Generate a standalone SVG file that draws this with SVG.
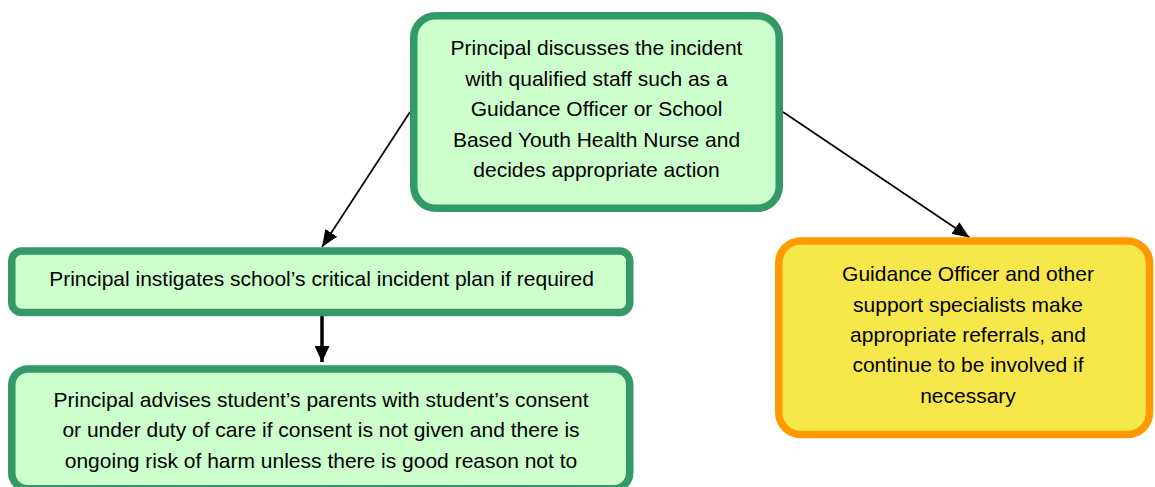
<svg xmlns="http://www.w3.org/2000/svg" width="1155" height="487" viewBox="0 0 1155 487">
  <style>
    .g { fill: #CCFFCC; stroke: #339966; stroke-width: 7.5; }
    .y { fill: #F6E84A; stroke: #FF9900; stroke-width: 7.5; }
    text { font-family: "Liberation Sans", Arial, sans-serif; font-size: 21px; fill: #000; text-anchor: middle; }
    .c { stroke: #000; fill: none; }
  </style>
  <defs>
    <marker id="ah" markerUnits="userSpaceOnUse" markerWidth="17" markerHeight="14" refX="17" refY="7" orient="auto">
      <path d="M0,0 L17,7 L0,14 z" fill="#000"/>
    </marker>
    <marker id="ahv" markerUnits="userSpaceOnUse" markerWidth="16" markerHeight="15" refX="16" refY="7.5" orient="auto">
      <path d="M0,0 L16,7.5 L0,15 z" fill="#000"/>
    </marker>
  </defs>
  <rect width="1155" height="487" fill="#fff"/>
  <g id="connectors">
    <line class="c" x1="410" y1="112" x2="322" y2="247" stroke-width="1.7" marker-end="url(#ah)"/>
    <line class="c" x1="783" y1="112" x2="969.5" y2="237.5" stroke-width="1.7" marker-end="url(#ah)"/>
    <line class="c" x1="322" y1="316" x2="322" y2="362" stroke-width="3.5" marker-end="url(#ahv)"/>
  </g>
  <g id="node-discuss">
    <rect class="g" x="413.75" y="15.75" width="365.5" height="192.5" rx="22"/>
    <text x="596.5" y="55">Principal discusses the incident</text>
    <text x="596.5" y="85.5">with qualified staff such as a</text>
    <text x="596.5" y="116">Guidance Officer or School</text>
    <text x="596.5" y="146.5">Based Youth Health Nurse and</text>
    <text x="596.5" y="177">decides appropriate action</text>
  </g>
  <g id="node-plan">
    <rect class="g" x="11.75" y="251" width="618" height="61.5" rx="10"/>
    <text x="321.5" y="286">Principal instigates school’s critical incident plan if required</text>
  </g>
  <g id="node-parents">
    <rect class="g" x="11.75" y="369" width="618" height="119.75" rx="16"/>
    <text x="321" y="406.5">Principal advises student’s parents with student’s consent</text>
    <text x="321" y="437">or under duty of care if consent is not given and there is</text>
    <text x="321" y="467.5">ongoing risk of harm unless there is good reason not to</text>
  </g>
  <g id="node-guidance">
    <rect class="y" x="778.75" y="241" width="370.8" height="193.5" rx="22"/>
    <text x="968" y="281">Guidance Officer and other</text>
    <text x="968" y="311.5">support specialists make</text>
    <text x="968" y="341.5">appropriate referrals, and</text>
    <text x="968" y="372">continue to be involved if</text>
    <text x="968" y="403">necessary</text>
  </g>
</svg>
